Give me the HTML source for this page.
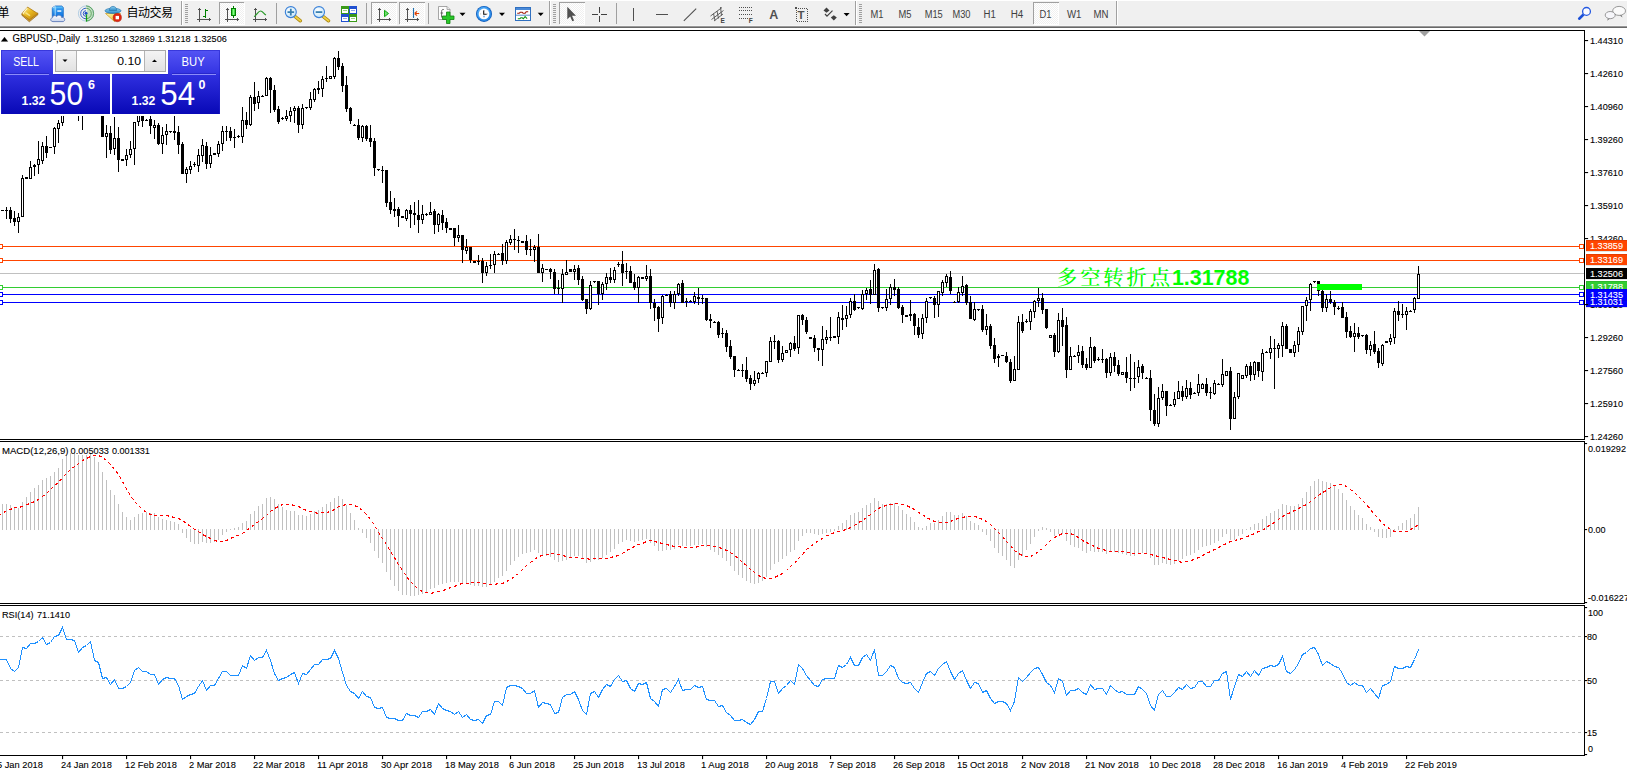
<!DOCTYPE html>
<html lang="zh"><head><meta charset="utf-8"><title>GBPUSD-,Daily</title>
<style>
html,body{margin:0;padding:0;background:#fff;}
body{width:1627px;height:772px;overflow:hidden;position:relative;font-family:"Liberation Sans","Noto Sans CJK SC",sans-serif;}
svg{display:block;}
#chart{position:absolute;left:0;top:0;}
#tb{position:absolute;left:0;top:0;}
#panel{position:absolute;left:0;top:50px;}

</style></head>
<body>
<svg id="chart" width="1627" height="772" viewBox="0 0 1627 772" shape-rendering="crispEdges">
<rect x="0" y="28" width="1627" height="744" fill="#fff"/>
<rect x="0" y="246" width="1584" height="1" fill="#ff4500"/>
<rect x="0" y="260" width="1584" height="1" fill="#ff4500"/>
<rect x="0" y="273" width="1584" height="1" fill="#c0c0c0"/>
<rect x="0" y="287" width="1584" height="1" fill="#32cd32"/>
<rect x="0" y="294" width="1584" height="1" fill="#0000ff"/>
<rect x="0" y="302" width="1584" height="1" fill="#0000ff"/>
<rect x="-1.5" y="244.5" width="4" height="4" fill="#fff" stroke="#ff4500" stroke-width="1"/>
<rect x="1579.5" y="244.5" width="4" height="4" fill="#fff" stroke="#ff4500" stroke-width="1"/>
<rect x="-1.5" y="258.5" width="4" height="4" fill="#fff" stroke="#ff4500" stroke-width="1"/>
<rect x="1579.5" y="258.5" width="4" height="4" fill="#fff" stroke="#ff4500" stroke-width="1"/>
<rect x="-1.5" y="285.5" width="4" height="4" fill="#fff" stroke="#32cd32" stroke-width="1"/>
<rect x="1579.5" y="285.5" width="4" height="4" fill="#fff" stroke="#32cd32" stroke-width="1"/>
<rect x="-1.5" y="292.5" width="4" height="4" fill="#fff" stroke="#0000ff" stroke-width="1"/>
<rect x="1579.5" y="292.5" width="4" height="4" fill="#fff" stroke="#0000ff" stroke-width="1"/>
<rect x="-1.5" y="300.5" width="4" height="4" fill="#fff" stroke="#0000ff" stroke-width="1"/>
<rect x="1579.5" y="300.5" width="4" height="4" fill="#fff" stroke="#0000ff" stroke-width="1"/>
<path fill="#000" d="M2 210h1v1h-1zM1 210h3v1h-3zM6 207h1v12h-1zM5 210h3v1h-3zM10 207h1v16h-1zM9 210h3v9h-3zM14 211h1v15h-1zM13 218h3v4h-3zM18 213h1v20h-1zM17 217h3v5h-3zM22 175h1v42h-1zM21 178h3v39h-3zM26 177h1v2h-1zM25 177h3v2h-3zM30 161h1v18h-1zM29 167h3v12h-3zM34 164h1v12h-1zM33 165h3v2h-3zM38 141h1v33h-1zM37 159h3v6h-3zM42 142h1v22h-1zM41 146h3v15h-3zM46 136h1v22h-1zM45 146h3v7h-3zM50 147h1v1h-1zM49 147h3v1h-3zM54 127h1v27h-1zM53 128h3v19h-3zM58 120h1v23h-1zM57 123h3v6h-3zM62 77h1v49h-1zM61 78h3v45h-3zM66 57h1v52h-1zM65 78h3v20h-3zM70 69h1v31h-1zM69 95h3v3h-3zM74 95h1v1h-1zM73 95h3v1h-3zM78 94h1v27h-1zM77 96h3v14h-3zM82 93h1v37h-1zM81 96h3v14h-3zM86 79h1v26h-1zM85 88h3v8h-3zM90 70h1v24h-1zM89 73h3v15h-3zM94 70h1v35h-1zM93 73h3v28h-3zM98 101h1v1h-1zM97 101h3v1h-3zM102 100h1v37h-1zM101 102h3v35h-3zM106 125h1v33h-1zM105 133h3v4h-3zM110 126h1v28h-1zM109 133h3v17h-3zM114 117h1v38h-1zM113 138h3v11h-3zM118 127h1v45h-1zM117 138h3v22h-3zM122 159h1v2h-1zM121 159h3v2h-3zM126 149h1v17h-1zM125 155h3v5h-3zM130 141h1v17h-1zM129 149h3v6h-3zM134 122h1v43h-1zM133 122h3v27h-3zM138 112h1v14h-1zM137 113h3v9h-3zM142 108h1v19h-1zM141 110h3v11h-3zM146 119h1v1h-1zM145 120h3v1h-3zM150 113h1v21h-1zM149 119h3v7h-3zM154 120h1v19h-1zM153 125h3v3h-3zM158 123h1v22h-1zM157 125h3v19h-3zM162 127h1v27h-1zM161 135h3v9h-3zM166 124h1v21h-1zM165 131h3v4h-3zM169 131h3v1h-3zM170 132h1v1h-1zM174 116h1v24h-1zM173 131h3v2h-3zM178 126h1v28h-1zM177 132h3v13h-3zM182 142h1v32h-1zM181 144h3v30h-3zM186 167h1v16h-1zM185 169h3v5h-3zM190 161h1v13h-1zM189 166h3v4h-3zM194 162h1v5h-1zM193 164h3v1h-3zM198 149h1v23h-1zM197 155h3v11h-3zM202 139h1v23h-1zM201 145h3v11h-3zM206 142h1v27h-1zM205 146h3v18h-3zM210 147h1v21h-1zM209 155h3v9h-3zM214 153h1v2h-1zM213 153h3v2h-3zM218 141h1v16h-1zM217 144h3v10h-3zM222 126h1v25h-1zM221 131h3v13h-3zM226 126h1v15h-1zM225 131h3v1h-3zM230 127h1v14h-1zM229 131h3v7h-3zM234 129h1v19h-1zM233 137h3v1h-3zM238 135h1v3h-1zM237 136h3v1h-3zM242 107h1v36h-1zM241 120h3v17h-3zM246 112h1v17h-1zM245 120h3v5h-3zM250 95h1v31h-1zM249 97h3v28h-3zM254 82h1v29h-1zM253 97h3v7h-3zM258 91h1v18h-1zM257 96h3v7h-3zM262 95h1v1h-1zM261 96h3v1h-3zM266 77h1v19h-1zM265 78h3v18h-3zM270 77h1v36h-1zM269 78h3v12h-3zM274 85h1v27h-1zM273 90h3v20h-3zM278 106h1v18h-1zM277 109h3v13h-3zM282 117h1v3h-1zM281 118h3v1h-3zM286 110h1v11h-1zM285 116h3v3h-3zM290 107h1v15h-1zM289 111h3v5h-3zM294 106h1v17h-1zM293 108h3v3h-3zM298 106h1v27h-1zM297 108h3v17h-3zM302 104h1v25h-1zM301 108h3v17h-3zM305 107h3v1h-3zM306 108h1v1h-1zM310 92h1v18h-1zM309 99h3v9h-3zM314 88h1v14h-1zM313 89h3v11h-3zM318 81h1v13h-1zM317 88h3v2h-3zM322 76h1v21h-1zM321 79h3v10h-3zM326 66h1v16h-1zM325 78h3v1h-3zM330 76h1v3h-1zM329 76h3v3h-3zM334 57h1v22h-1zM333 58h3v19h-3zM338 51h1v19h-1zM337 58h3v9h-3zM342 63h1v29h-1zM341 66h3v20h-3zM346 76h1v36h-1zM345 85h3v24h-3zM350 107h1v17h-1zM349 108h3v13h-3zM354 124h1v1h-1zM353 125h3v1h-3zM358 119h1v21h-1zM357 125h3v13h-3zM362 125h1v17h-1zM361 126h3v12h-3zM366 125h1v16h-1zM365 126h3v13h-3zM370 125h1v22h-1zM369 138h3v4h-3zM374 138h1v38h-1zM373 141h3v27h-3zM377 169h3v1h-3zM378 170h1v1h-1zM382 166h1v17h-1zM381 170h3v1h-3zM386 170h1v37h-1zM385 170h3v33h-3zM390 191h1v23h-1zM389 202h3v8h-3zM394 198h1v19h-1zM393 209h3v2h-3zM398 207h1v20h-1zM397 209h3v7h-3zM402 216h1v2h-1zM401 216h3v2h-3zM406 209h1v12h-1zM405 210h3v9h-3zM410 205h1v23h-1zM409 210h3v4h-3zM414 202h1v23h-1zM413 213h3v2h-3zM418 200h1v33h-1zM417 215h3v5h-3zM422 205h1v19h-1zM421 214h3v6h-3zM426 213h1v3h-1zM425 214h3v1h-3zM430 202h1v13h-1zM429 212h3v3h-3zM434 209h1v25h-1zM433 211h3v14h-3zM438 213h1v19h-1zM437 214h3v11h-3zM442 210h1v20h-1zM441 215h3v8h-3zM446 218h1v15h-1zM445 222h3v6h-3zM450 228h1v2h-1zM449 228h3v2h-3zM454 228h1v18h-1zM453 228h3v10h-3zM458 225h1v17h-1zM457 235h3v3h-3zM462 235h1v28h-1zM461 235h3v15h-3zM466 239h1v15h-1zM465 247h3v4h-3zM470 247h1v16h-1zM469 247h3v13h-3zM474 261h1v2h-1zM473 261h3v2h-3zM478 255h1v10h-1zM477 261h3v1h-3zM482 258h1v25h-1zM481 261h3v12h-3zM486 262h1v14h-1zM485 266h3v7h-3zM490 254h1v15h-1zM489 265h3v1h-3zM494 251h1v22h-1zM493 254h3v11h-3zM498 253h1v1h-1zM497 254h3v1h-3zM502 244h1v21h-1zM501 253h3v8h-3zM506 240h1v24h-1zM505 242h3v19h-3zM510 235h1v10h-1zM509 239h3v4h-3zM514 229h1v21h-1zM513 239h3v1h-3zM518 236h1v17h-1zM517 240h3v1h-3zM522 241h1v2h-1zM521 241h3v2h-3zM526 235h1v20h-1zM525 241h3v9h-3zM530 239h1v17h-1zM529 249h3v1h-3zM534 245h1v17h-1zM533 247h3v3h-3zM538 234h1v39h-1zM537 247h3v26h-3zM542 264h1v18h-1zM541 268h3v5h-3zM546 269h1v1h-1zM545 269h3v1h-3zM550 268h1v11h-1zM549 269h3v3h-3zM554 269h1v25h-1zM553 272h3v17h-3zM558 280h1v14h-1zM557 288h3v1h-3zM562 269h1v34h-1zM561 274h3v15h-3zM566 260h1v15h-1zM565 272h3v3h-3zM570 269h1v3h-1zM569 269h3v3h-3zM574 265h1v15h-1zM573 269h3v3h-3zM578 265h1v20h-1zM577 268h3v12h-3zM582 276h1v25h-1zM581 279h3v21h-3zM586 299h1v15h-1zM585 299h3v10h-3zM590 281h1v29h-1zM589 285h3v24h-3zM593 281h3v1h-3zM594 282h1v1h-1zM598 281h1v24h-1zM597 281h3v13h-3zM602 282h1v18h-1zM601 284h3v10h-3zM606 273h1v17h-1zM605 277h3v7h-3zM610 268h1v15h-1zM609 277h3v3h-3zM614 267h1v16h-1zM613 270h3v10h-3zM618 262h1v5h-1zM617 264h3v1h-3zM622 251h1v35h-1zM621 264h3v9h-3zM626 263h1v16h-1zM625 271h3v1h-3zM630 266h1v17h-1zM629 271h3v12h-3zM634 274h1v16h-1zM633 282h3v6h-3zM638 276h1v27h-1zM637 277h3v11h-3zM642 277h1v2h-1zM641 277h3v2h-3zM646 265h1v16h-1zM645 276h3v3h-3zM650 269h1v40h-1zM649 276h3v27h-3zM654 299h1v22h-1zM653 303h3v5h-3zM658 306h1v26h-1zM657 307h3v12h-3zM662 295h1v29h-1zM661 296h3v22h-3zM666 294h1v1h-1zM665 295h3v1h-3zM670 291h1v16h-1zM669 294h3v9h-3zM674 291h1v18h-1zM673 294h3v9h-3zM678 283h1v13h-1zM677 284h3v10h-3zM682 280h1v23h-1zM681 283h3v20h-3zM686 298h1v9h-1zM685 301h3v1h-3zM690 300h1v1h-1zM689 301h3v1h-3zM694 292h1v12h-1zM693 296h3v6h-3zM698 288h1v17h-1zM697 297h3v2h-3zM702 295h1v9h-1zM701 298h3v1h-3zM706 298h1v23h-1zM705 298h3v22h-3zM710 314h1v14h-1zM709 319h3v2h-3zM714 321h1v1h-1zM713 322h3v1h-3zM718 321h1v17h-1zM717 322h3v13h-3zM722 328h1v10h-1zM721 333h3v1h-3zM726 330h1v22h-1zM725 333h3v14h-3zM730 340h1v19h-1zM729 346h3v11h-3zM734 356h1v21h-1zM733 356h3v14h-3zM738 369h1v1h-1zM737 370h3v1h-3zM742 364h1v13h-1zM741 370h3v1h-3zM746 357h1v25h-1zM745 370h3v9h-3zM750 375h1v15h-1zM749 378h3v6h-3zM754 371h1v15h-1zM753 380h3v4h-3zM758 372h1v11h-1zM757 373h3v6h-3zM762 372h1v1h-1zM761 373h3v1h-3zM766 361h1v16h-1zM765 361h3v12h-3zM770 337h1v25h-1zM769 341h3v21h-3zM774 335h1v14h-1zM773 341h3v1h-3zM778 340h1v23h-1zM777 341h3v19h-3zM782 346h1v16h-1zM781 353h3v7h-3zM786 350h1v3h-1zM785 350h3v3h-3zM790 342h1v15h-1zM789 343h3v7h-3zM794 336h1v15h-1zM793 343h3v6h-3zM798 315h1v39h-1zM797 315h3v33h-3zM802 314h1v11h-1zM801 315h3v5h-3zM806 317h1v17h-1zM805 320h3v12h-3zM810 337h1v2h-1zM809 337h3v2h-3zM814 335h1v17h-1zM813 338h3v10h-3zM818 348h1v13h-1zM817 348h3v2h-3zM822 326h1v40h-1zM821 339h3v11h-3zM826 330h1v14h-1zM825 337h3v3h-3zM830 317h1v24h-1zM829 337h3v1h-3zM834 336h1v2h-1zM833 336h3v2h-3zM838 312h1v32h-1zM837 317h3v20h-3zM842 305h1v25h-1zM841 318h3v2h-3zM846 306h1v21h-1zM845 315h3v4h-3zM850 298h1v20h-1zM849 301h3v14h-3zM854 294h1v17h-1zM853 301h3v9h-3zM857 307h3v1h-3zM858 308h1v1h-1zM862 290h1v20h-1zM861 294h3v15h-3zM866 288h1v12h-1zM865 290h3v4h-3zM870 280h1v24h-1zM869 289h3v6h-3zM874 264h1v31h-1zM873 270h3v25h-3zM878 268h1v44h-1zM877 269h3v39h-3zM881 307h3v1h-3zM882 308h1v1h-1zM886 289h1v22h-1zM885 299h3v9h-3zM890 284h1v21h-1zM889 287h3v12h-3zM894 279h1v17h-1zM893 287h3v3h-3zM898 287h1v22h-1zM897 289h3v19h-3zM902 305h1v18h-1zM901 307h3v8h-3zM906 315h1v2h-1zM905 315h3v2h-3zM910 300h1v21h-1zM909 314h3v2h-3zM914 313h1v22h-1zM913 314h3v12h-3zM918 318h1v20h-1zM917 327h3v8h-3zM922 314h1v25h-1zM921 318h3v16h-3zM926 298h1v25h-1zM925 301h3v17h-3zM929 297h3v1h-3zM930 298h1v1h-1zM934 296h1v22h-1zM933 298h3v7h-3zM938 291h1v26h-1zM937 291h3v14h-3zM942 280h1v16h-1zM941 282h3v11h-3zM946 274h1v13h-1zM945 276h3v7h-3zM950 271h1v23h-1zM949 277h3v14h-3zM954 301h1v1h-1zM953 302h3v1h-3zM958 287h1v16h-1zM957 292h3v10h-3zM962 276h1v20h-1zM961 286h3v7h-3zM966 284h1v21h-1zM965 285h3v18h-3zM970 296h1v23h-1zM969 302h3v17h-3zM974 302h1v19h-1zM973 309h3v11h-3zM977 309h3v1h-3zM978 310h1v1h-1zM982 305h1v27h-1zM981 309h3v21h-3zM986 314h1v21h-1zM985 326h3v4h-3zM990 324h1v25h-1zM989 326h3v20h-3zM994 338h1v25h-1zM993 345h3v14h-3zM998 354h1v13h-1zM997 356h3v2h-3zM1002 355h1v1h-1zM1001 355h3v1h-3zM1006 352h1v11h-1zM1005 356h3v6h-3zM1010 359h1v24h-1zM1009 362h3v19h-3zM1014 356h1v25h-1zM1013 369h3v12h-3zM1018 316h1v54h-1zM1017 322h3v48h-3zM1022 314h1v19h-1zM1021 322h3v9h-3zM1026 319h1v4h-1zM1025 321h3v1h-3zM1030 309h1v21h-1zM1029 311h3v11h-3zM1034 300h1v18h-1zM1033 301h3v11h-3zM1038 288h1v19h-1zM1037 298h3v3h-3zM1042 293h1v21h-1zM1041 298h3v12h-3zM1046 309h1v20h-1zM1045 309h3v19h-3zM1050 335h1v3h-1zM1049 335h3v3h-3zM1054 333h1v24h-1zM1053 335h3v17h-3zM1058 313h1v40h-1zM1057 320h3v32h-3zM1062 308h1v38h-1zM1061 320h3v7h-3zM1066 317h1v61h-1zM1065 325h3v45h-3zM1070 347h1v23h-1zM1069 356h3v14h-3zM1074 355h1v1h-1zM1073 356h3v1h-3zM1078 345h1v18h-1zM1077 352h3v4h-3zM1082 346h1v22h-1zM1081 351h3v14h-3zM1086 358h1v12h-1zM1085 364h3v4h-3zM1090 337h1v31h-1zM1089 347h3v21h-3zM1094 346h1v17h-1zM1093 347h3v14h-3zM1098 357h1v4h-1zM1097 359h3v1h-3zM1102 349h1v14h-1zM1101 359h3v1h-3zM1106 358h1v20h-1zM1105 359h3v14h-3zM1110 353h1v23h-1zM1109 357h3v16h-3zM1114 352h1v20h-1zM1113 357h3v9h-3zM1118 360h1v16h-1zM1117 365h3v9h-3zM1122 372h1v3h-1zM1121 372h3v3h-3zM1126 357h1v26h-1zM1125 372h3v6h-3zM1130 354h1v37h-1zM1129 378h3v1h-3zM1134 362h1v26h-1zM1133 378h3v1h-3zM1138 360h1v23h-1zM1137 367h3v10h-3zM1142 364h1v15h-1zM1141 366h3v7h-3zM1146 377h1v1h-1zM1145 378h3v1h-3zM1150 370h1v51h-1zM1149 378h3v32h-3zM1154 394h1v32h-1zM1153 410h3v14h-3zM1158 387h1v40h-1zM1157 398h3v26h-3zM1162 384h1v16h-1zM1161 391h3v7h-3zM1166 391h1v25h-1zM1165 391h3v15h-3zM1170 404h1v1h-1zM1169 405h3v1h-3zM1174 392h1v15h-1zM1173 399h3v6h-3zM1178 381h1v18h-1zM1177 391h3v8h-3zM1182 386h1v15h-1zM1181 391h3v6h-3zM1186 380h1v19h-1zM1185 388h3v9h-3zM1190 382h1v17h-1zM1189 388h3v7h-3zM1194 392h1v1h-1zM1193 393h3v1h-3zM1198 374h1v22h-1zM1197 384h3v9h-3zM1202 383h1v6h-1zM1201 384h3v5h-3zM1206 378h1v18h-1zM1205 384h3v9h-3zM1210 387h1v12h-1zM1209 392h3v1h-3zM1214 380h1v15h-1zM1213 383h3v11h-3zM1218 383h1v1h-1zM1217 384h3v1h-3zM1222 359h1v28h-1zM1221 374h3v11h-3zM1226 371h1v5h-1zM1225 371h3v5h-3zM1230 367h1v63h-1zM1229 371h3v48h-3zM1234 392h1v27h-1zM1233 397h3v22h-3zM1238 373h1v26h-1zM1237 373h3v24h-3zM1242 375h1v4h-1zM1241 375h3v4h-3zM1246 364h1v14h-1zM1245 366h3v10h-3zM1250 362h1v19h-1zM1249 366h3v9h-3zM1254 361h1v19h-1zM1253 362h3v13h-3zM1258 362h1v15h-1zM1257 362h3v9h-3zM1262 349h1v32h-1zM1261 353h3v19h-3zM1266 351h1v1h-1zM1265 352h3v1h-3zM1270 336h1v23h-1zM1269 348h3v5h-3zM1274 339h1v50h-1zM1273 348h3v1h-3zM1278 343h1v15h-1zM1277 345h3v4h-3zM1282 322h1v35h-1zM1281 326h3v20h-3zM1286 324h1v25h-1zM1285 326h3v23h-3zM1290 349h1v4h-1zM1289 349h3v4h-3zM1294 341h1v16h-1zM1293 345h3v8h-3zM1298 327h1v25h-1zM1297 331h3v14h-3zM1302 306h1v29h-1zM1301 306h3v26h-3zM1306 297h1v24h-1zM1305 300h3v6h-3zM1310 283h1v28h-1zM1309 284h3v16h-3zM1313 281h3v1h-3zM1314 282h1v1h-1zM1318 281h1v15h-1zM1317 281h3v10h-3zM1322 284h1v28h-1zM1321 291h3v17h-3zM1326 294h1v18h-1zM1325 299h3v9h-3zM1330 291h1v13h-1zM1329 299h3v3h-3zM1334 300h1v15h-1zM1333 302h3v5h-3zM1338 306h1v4h-1zM1337 308h3v1h-3zM1342 302h1v16h-1zM1341 307h3v11h-3zM1346 312h1v26h-1zM1345 317h3v15h-3zM1350 326h1v12h-1zM1349 331h3v6h-3zM1354 323h1v29h-1zM1353 333h3v4h-3zM1358 327h1v12h-1zM1357 333h3v4h-3zM1361 335h3v1h-3zM1362 336h1v1h-1zM1366 334h1v20h-1zM1365 335h3v15h-3zM1370 341h1v15h-1zM1369 345h3v5h-3zM1374 331h1v23h-1zM1373 344h3v8h-3zM1378 348h1v20h-1zM1377 351h3v12h-3zM1382 344h1v22h-1zM1381 345h3v19h-3zM1386 341h1v2h-1zM1385 341h3v2h-3zM1390 334h1v11h-1zM1389 338h3v4h-3zM1394 308h1v36h-1zM1393 311h3v27h-3zM1398 301h1v20h-1zM1397 311h3v4h-3zM1402 304h1v14h-1zM1401 314h3v1h-3zM1406 307h1v23h-1zM1405 311h3v4h-3zM1410 310h1v1h-1zM1409 311h3v1h-3zM1414 297h1v16h-1zM1413 298h3v12h-3zM1418 266h1v33h-1zM1417 274h3v25h-3z"/>
<path fill="#fff" d="M18 218h1v3h-1zM22 179h1v37h-1zM30 168h1v10h-1zM38 160h1v4h-1zM42 147h1v13h-1zM54 129h1v17h-1zM58 124h1v4h-1zM62 79h1v43h-1zM70 96h1v1h-1zM82 97h1v12h-1zM86 89h1v6h-1zM90 74h1v13h-1zM106 134h1v2h-1zM114 139h1v9h-1zM126 156h1v3h-1zM130 150h1v4h-1zM134 123h1v25h-1zM138 114h1v7h-1zM154 126h1v1h-1zM162 136h1v7h-1zM166 132h1v2h-1zM186 170h1v3h-1zM190 167h1v2h-1zM198 156h1v9h-1zM202 146h1v9h-1zM210 156h1v7h-1zM218 145h1v8h-1zM222 132h1v11h-1zM242 121h1v15h-1zM250 98h1v26h-1zM258 97h1v5h-1zM266 79h1v16h-1zM286 117h1v1h-1zM290 112h1v3h-1zM294 109h1v1h-1zM302 109h1v15h-1zM310 100h1v7h-1zM314 90h1v9h-1zM322 80h1v8h-1zM330 77h1v1h-1zM334 59h1v17h-1zM362 127h1v10h-1zM406 211h1v7h-1zM422 215h1v4h-1zM430 213h1v1h-1zM438 215h1v9h-1zM458 236h1v1h-1zM466 248h1v2h-1zM486 267h1v5h-1zM494 255h1v9h-1zM506 243h1v17h-1zM510 240h1v2h-1zM534 248h1v1h-1zM542 269h1v3h-1zM562 275h1v13h-1zM566 273h1v1h-1zM574 270h1v1h-1zM590 286h1v22h-1zM602 285h1v8h-1zM606 278h1v5h-1zM614 271h1v8h-1zM638 278h1v9h-1zM646 277h1v1h-1zM662 297h1v20h-1zM674 295h1v7h-1zM678 285h1v8h-1zM694 297h1v4h-1zM754 381h1v2h-1zM758 374h1v4h-1zM766 362h1v10h-1zM770 342h1v19h-1zM782 354h1v5h-1zM786 351h1v1h-1zM790 344h1v5h-1zM798 316h1v31h-1zM822 340h1v9h-1zM826 338h1v1h-1zM838 318h1v18h-1zM846 316h1v2h-1zM850 302h1v12h-1zM862 295h1v13h-1zM866 291h1v2h-1zM874 271h1v23h-1zM886 300h1v7h-1zM890 288h1v10h-1zM922 319h1v14h-1zM926 302h1v15h-1zM938 292h1v12h-1zM942 283h1v9h-1zM946 277h1v5h-1zM958 293h1v8h-1zM962 287h1v5h-1zM974 310h1v9h-1zM986 327h1v2h-1zM1014 370h1v10h-1zM1018 323h1v46h-1zM1030 312h1v9h-1zM1034 302h1v9h-1zM1038 299h1v1h-1zM1050 336h1v1h-1zM1058 321h1v30h-1zM1070 357h1v12h-1zM1078 353h1v2h-1zM1090 348h1v19h-1zM1110 358h1v14h-1zM1122 373h1v1h-1zM1138 368h1v8h-1zM1158 399h1v24h-1zM1162 392h1v5h-1zM1174 400h1v4h-1zM1178 392h1v6h-1zM1186 389h1v7h-1zM1198 385h1v7h-1zM1202 385h1v3h-1zM1214 384h1v9h-1zM1222 375h1v9h-1zM1226 372h1v3h-1zM1234 398h1v20h-1zM1238 374h1v22h-1zM1242 376h1v2h-1zM1246 367h1v8h-1zM1254 363h1v11h-1zM1262 354h1v17h-1zM1270 349h1v3h-1zM1278 346h1v2h-1zM1282 327h1v18h-1zM1294 346h1v6h-1zM1298 332h1v12h-1zM1302 307h1v24h-1zM1306 301h1v4h-1zM1310 285h1v14h-1zM1326 300h1v7h-1zM1354 334h1v2h-1zM1370 346h1v3h-1zM1382 346h1v17h-1zM1390 339h1v2h-1zM1394 312h1v25h-1zM1406 312h1v2h-1zM1414 299h1v10h-1zM1418 275h1v23h-1z"/>
<rect x="1317" y="284" width="45" height="6" fill="#00ff00"/>
<g shape-rendering="auto"><text x="1057" y="284.5" fill="#00ff00" font-size="21.3px" font-weight="bold" style="font-family:'Liberation Sans','Noto Serif CJK SC',serif"><tspan font-weight="500" font-size="20.3px" textLength="113" lengthAdjust="spacing">多空转折点</tspan><tspan dx="-1" textLength="77.5" lengthAdjust="spacingAndGlyphs">1.31788</tspan></text></g>
<rect x="0" y="30" width="1585" height="1" fill="#000"/>
<rect x="1584" y="30" width="1" height="726" fill="#000"/>
<rect x="0" y="439" width="1585" height="1" fill="#000"/>
<rect x="0" y="440" width="1585" height="1" fill="#fff"/>
<rect x="0" y="441" width="1585" height="1" fill="#000"/>
<rect x="0" y="603" width="1585" height="1" fill="#000"/>
<rect x="0" y="604" width="1585" height="1" fill="#fff"/>
<rect x="0" y="605" width="1585" height="1" fill="#000"/>
<rect x="0" y="755" width="1585" height="1" fill="#000"/>
<path d="M1419 31h11l-5.5 5.5z" fill="#a0a0a0" shape-rendering="auto"/>
<path fill="#c0c0c0" d="M-2 505h1v25h-1zM2 504h1v26h-1zM6 504h1v26h-1zM10 505h1v25h-1zM14 507h1v23h-1zM18 508h1v22h-1zM22 502h1v28h-1zM26 497h1v33h-1zM30 492h1v38h-1zM34 488h1v42h-1zM38 485h1v45h-1zM42 480h1v50h-1zM46 478h1v52h-1zM50 476h1v54h-1zM54 472h1v58h-1zM58 468h1v62h-1zM62 459h1v71h-1zM66 455h1v75h-1zM70 453h1v77h-1zM74 452h1v78h-1zM78 455h1v75h-1zM82 455h1v75h-1zM86 455h1v75h-1zM90 453h1v77h-1zM94 457h1v73h-1zM98 462h1v68h-1zM102 472h1v58h-1zM106 480h1v50h-1zM110 490h1v40h-1zM114 495h1v35h-1zM118 504h1v26h-1zM122 512h1v18h-1zM126 517h1v13h-1zM130 520h1v10h-1zM134 517h1v13h-1zM138 514h1v16h-1zM142 513h1v17h-1zM146 512h1v18h-1zM150 513h1v17h-1zM154 513h1v17h-1zM158 517h1v13h-1zM162 519h1v11h-1zM166 520h1v10h-1zM170 521h1v9h-1zM174 522h1v8h-1zM178 524h1v6h-1zM182 529h1v4h-1zM186 529h1v9h-1zM190 529h1v13h-1zM194 529h1v15h-1zM198 529h1v15h-1zM202 529h1v13h-1zM206 529h1v14h-1zM210 529h1v14h-1zM214 529h1v13h-1zM218 529h1v11h-1zM222 529h1v6h-1zM226 529h1v3h-1zM230 529h1v1h-1zM234 528h1v2h-1zM238 527h1v3h-1zM242 523h1v7h-1zM246 521h1v9h-1zM250 514h1v16h-1zM254 511h1v19h-1zM258 506h1v24h-1zM262 504h1v26h-1zM266 498h1v32h-1zM270 497h1v33h-1zM274 499h1v31h-1zM278 504h1v26h-1zM282 507h1v23h-1zM286 510h1v20h-1zM290 511h1v19h-1zM294 511h1v19h-1zM298 515h1v15h-1zM302 515h1v15h-1zM306 516h1v14h-1zM310 514h1v16h-1zM314 511h1v19h-1zM318 510h1v20h-1zM322 507h1v23h-1zM326 504h1v26h-1zM330 502h1v28h-1zM334 498h1v32h-1zM338 496h1v34h-1zM342 499h1v31h-1zM346 505h1v25h-1zM350 513h1v17h-1zM354 520h1v10h-1zM358 528h1v2h-1zM362 529h1v4h-1zM366 529h1v9h-1zM370 529h1v14h-1zM374 529h1v22h-1zM378 529h1v29h-1zM382 529h1v34h-1zM386 529h1v43h-1zM390 529h1v51h-1zM394 529h1v57h-1zM398 529h1v62h-1zM402 529h1v66h-1zM406 529h1v66h-1zM410 529h1v67h-1zM414 529h1v67h-1zM418 529h1v66h-1zM422 529h1v65h-1zM426 529h1v63h-1zM430 529h1v60h-1zM434 529h1v59h-1zM438 529h1v56h-1zM442 529h1v55h-1zM446 529h1v54h-1zM450 529h1v53h-1zM454 529h1v53h-1zM458 529h1v53h-1zM462 529h1v54h-1zM466 529h1v54h-1zM470 529h1v56h-1zM474 529h1v57h-1zM478 529h1v57h-1zM482 529h1v58h-1zM486 529h1v58h-1zM490 529h1v56h-1zM494 529h1v53h-1zM498 529h1v49h-1zM502 529h1v47h-1zM506 529h1v42h-1zM510 529h1v36h-1zM514 529h1v32h-1zM518 529h1v28h-1zM522 529h1v25h-1zM526 529h1v24h-1zM530 529h1v23h-1zM534 529h1v21h-1zM538 529h1v24h-1zM542 529h1v26h-1zM546 529h1v27h-1zM550 529h1v28h-1zM554 529h1v31h-1zM558 529h1v33h-1zM562 529h1v32h-1zM566 529h1v31h-1zM570 529h1v29h-1zM574 529h1v27h-1zM578 529h1v27h-1zM582 529h1v30h-1zM586 529h1v34h-1zM590 529h1v33h-1zM594 529h1v31h-1zM598 529h1v31h-1zM602 529h1v29h-1zM606 529h1v26h-1zM610 529h1v23h-1zM614 529h1v20h-1zM618 529h1v15h-1zM622 529h1v13h-1zM626 529h1v11h-1zM630 529h1v12h-1zM634 529h1v13h-1zM638 529h1v12h-1zM642 529h1v11h-1zM646 529h1v10h-1zM650 529h1v14h-1zM654 529h1v17h-1zM658 529h1v22h-1zM662 529h1v22h-1zM666 529h1v21h-1zM670 529h1v21h-1zM674 529h1v20h-1zM678 529h1v16h-1zM682 529h1v17h-1zM686 529h1v17h-1zM690 529h1v17h-1zM694 529h1v16h-1zM698 529h1v16h-1zM702 529h1v15h-1zM706 529h1v18h-1zM710 529h1v21h-1zM714 529h1v23h-1zM718 529h1v26h-1zM722 529h1v29h-1zM726 529h1v32h-1zM730 529h1v37h-1zM734 529h1v42h-1zM738 529h1v46h-1zM742 529h1v49h-1zM746 529h1v52h-1zM750 529h1v54h-1zM754 529h1v55h-1zM758 529h1v54h-1zM762 529h1v52h-1zM766 529h1v48h-1zM770 529h1v41h-1zM774 529h1v35h-1zM778 529h1v33h-1zM782 529h1v30h-1zM786 529h1v27h-1zM790 529h1v23h-1zM794 529h1v21h-1zM798 529h1v12h-1zM802 529h1v7h-1zM806 529h1v4h-1zM810 529h1v4h-1zM814 529h1v5h-1zM818 529h1v6h-1zM822 529h1v5h-1zM826 529h1v4h-1zM830 529h1v3h-1zM834 529h1v2h-1zM838 526h1v4h-1zM842 523h1v7h-1zM846 520h1v10h-1zM850 515h1v15h-1zM854 513h1v17h-1zM858 512h1v18h-1zM862 508h1v22h-1zM866 505h1v25h-1zM870 503h1v27h-1zM874 498h1v32h-1zM878 501h1v29h-1zM882 504h1v26h-1zM886 504h1v26h-1zM890 503h1v27h-1zM894 503h1v27h-1zM898 506h1v24h-1zM902 510h1v20h-1zM906 514h1v16h-1zM910 517h1v13h-1zM914 522h1v8h-1zM918 527h1v3h-1zM922 528h1v2h-1zM926 526h1v4h-1zM930 523h1v7h-1zM934 523h1v7h-1zM938 520h1v10h-1zM942 516h1v14h-1zM946 512h1v18h-1zM950 512h1v18h-1zM954 515h1v15h-1zM958 515h1v15h-1zM962 513h1v17h-1zM966 516h1v14h-1zM970 521h1v9h-1zM974 523h1v7h-1zM978 525h1v5h-1zM982 529h1v3h-1zM986 529h1v6h-1zM990 529h1v12h-1zM994 529h1v19h-1zM998 529h1v24h-1zM1002 529h1v27h-1zM1006 529h1v31h-1zM1010 529h1v37h-1zM1014 529h1v39h-1zM1018 529h1v31h-1zM1022 529h1v27h-1zM1026 529h1v21h-1zM1030 529h1v15h-1zM1034 529h1v8h-1zM1038 529h1v2h-1zM1042 527h1v3h-1zM1046 528h1v2h-1zM1050 529h1v3h-1zM1054 529h1v7h-1zM1058 529h1v5h-1zM1062 529h1v5h-1zM1066 529h1v12h-1zM1070 529h1v16h-1zM1074 529h1v18h-1zM1078 529h1v19h-1zM1082 529h1v22h-1zM1086 529h1v24h-1zM1090 529h1v22h-1zM1094 529h1v23h-1zM1098 529h1v23h-1zM1102 529h1v23h-1zM1106 529h1v25h-1zM1110 529h1v23h-1zM1114 529h1v23h-1zM1118 529h1v24h-1zM1122 529h1v25h-1zM1126 529h1v26h-1zM1130 529h1v27h-1zM1134 529h1v27h-1zM1138 529h1v25h-1zM1142 529h1v24h-1zM1146 529h1v24h-1zM1150 529h1v29h-1zM1154 529h1v36h-1zM1158 529h1v36h-1zM1162 529h1v34h-1zM1166 529h1v35h-1zM1170 529h1v36h-1zM1174 529h1v35h-1zM1178 529h1v32h-1zM1182 529h1v30h-1zM1186 529h1v27h-1zM1190 529h1v26h-1zM1194 529h1v24h-1zM1198 529h1v21h-1zM1202 529h1v18h-1zM1206 529h1v17h-1zM1210 529h1v16h-1zM1214 529h1v14h-1zM1218 529h1v12h-1zM1222 529h1v8h-1zM1226 529h1v5h-1zM1230 529h1v11h-1zM1234 529h1v11h-1zM1238 529h1v7h-1zM1242 529h1v5h-1zM1246 529h1v1h-1zM1250 527h1v3h-1zM1254 524h1v6h-1zM1258 523h1v7h-1zM1262 519h1v11h-1zM1266 516h1v14h-1zM1270 513h1v17h-1zM1274 511h1v19h-1zM1278 509h1v21h-1zM1282 504h1v26h-1zM1286 505h1v25h-1zM1290 506h1v24h-1zM1294 506h1v24h-1zM1298 504h1v26h-1zM1302 498h1v32h-1zM1306 492h1v38h-1zM1310 486h1v44h-1zM1314 481h1v49h-1zM1318 479h1v51h-1zM1322 481h1v49h-1zM1326 482h1v48h-1zM1330 483h1v47h-1zM1334 486h1v44h-1zM1338 489h1v41h-1zM1342 493h1v37h-1zM1346 500h1v30h-1zM1350 506h1v24h-1zM1354 510h1v20h-1zM1358 515h1v15h-1zM1362 518h1v12h-1zM1366 524h1v6h-1zM1370 527h1v3h-1zM1374 529h1v3h-1zM1378 529h1v8h-1zM1382 529h1v9h-1zM1386 529h1v9h-1zM1390 529h1v8h-1zM1394 529h1v2h-1zM1398 526h1v4h-1zM1402 523h1v7h-1zM1406 520h1v10h-1zM1410 518h1v12h-1zM1414 514h1v16h-1zM1418 507h1v23h-1z"/>
<polyline points="-1.5,515.5 2.5,513.5 6.5,510.5 10.5,509.5 14.5,507.5 18.5,507.5 22.5,506.5 26.5,504.5 30.5,503.5 34.5,501.5 38.5,499.5 42.5,496.5 46.5,493.5 50.5,489.5 54.5,485.5 58.5,482.5 62.5,477.5 66.5,473.5 70.5,469.5 74.5,466.5 78.5,463.5 82.5,460.5 86.5,458.5 90.5,456.5 94.5,455.5 98.5,455.5 102.5,457.5 106.5,460.5 110.5,464.5 114.5,469.5 118.5,474.5 122.5,481.5 126.5,488.5 130.5,495.5 134.5,501.5 138.5,505.5 142.5,509.5 146.5,512.5 150.5,514.5 154.5,515.5 158.5,515.5 162.5,515.5 166.5,515.5 170.5,516.5 174.5,517.5 178.5,518.5 182.5,520.5 186.5,523.5 190.5,526.5 194.5,529.5 198.5,531.5 202.5,534.5 206.5,536.5 210.5,538.5 214.5,540.5 218.5,541.5 222.5,541.5 226.5,540.5 230.5,538.5 234.5,536.5 238.5,535.5 242.5,533.5 246.5,530.5 250.5,527.5 254.5,524.5 258.5,521.5 262.5,518.5 266.5,515.5 270.5,511.5 274.5,508.5 278.5,506.5 282.5,504.5 286.5,504.5 290.5,504.5 294.5,505.5 298.5,506.5 302.5,508.5 306.5,510.5 310.5,511.5 314.5,512.5 318.5,513.5 322.5,512.5 326.5,512.5 330.5,511.5 334.5,509.5 338.5,506.5 342.5,505.5 346.5,504.5 350.5,504.5 354.5,505.5 358.5,507.5 362.5,510.5 366.5,514.5 370.5,519.5 374.5,525.5 378.5,532.5 382.5,538.5 386.5,544.5 390.5,551.5 394.5,557.5 398.5,564.5 402.5,570.5 406.5,576.5 410.5,581.5 414.5,585.5 418.5,589.5 422.5,591.5 426.5,592.5 430.5,593.5 434.5,592.5 438.5,591.5 442.5,590.5 446.5,589.5 450.5,587.5 454.5,586.5 458.5,584.5 462.5,583.5 466.5,583.5 470.5,582.5 474.5,582.5 478.5,582.5 482.5,583.5 486.5,583.5 490.5,584.5 494.5,584.5 498.5,583.5 502.5,583.5 506.5,581.5 510.5,579.5 514.5,576.5 518.5,573.5 522.5,569.5 526.5,565.5 530.5,562.5 534.5,559.5 538.5,556.5 542.5,555.5 546.5,554.5 550.5,553.5 554.5,553.5 558.5,554.5 562.5,555.5 566.5,556.5 570.5,557.5 574.5,557.5 578.5,557.5 582.5,558.5 586.5,558.5 590.5,559.5 594.5,558.5 598.5,558.5 602.5,558.5 606.5,558.5 610.5,557.5 614.5,556.5 618.5,555.5 622.5,553.5 626.5,550.5 630.5,548.5 634.5,546.5 638.5,544.5 642.5,543.5 646.5,541.5 650.5,540.5 654.5,541.5 658.5,542.5 662.5,543.5 666.5,544.5 670.5,545.5 674.5,546.5 678.5,546.5 682.5,547.5 686.5,547.5 690.5,547.5 694.5,547.5 698.5,546.5 702.5,545.5 706.5,545.5 710.5,545.5 714.5,546.5 718.5,547.5 722.5,548.5 726.5,550.5 730.5,552.5 734.5,555.5 738.5,558.5 742.5,562.5 746.5,565.5 750.5,569.5 754.5,572.5 758.5,575.5 762.5,577.5 766.5,578.5 770.5,578.5 774.5,577.5 778.5,575.5 782.5,573.5 786.5,570.5 790.5,566.5 794.5,563.5 798.5,558.5 802.5,554.5 806.5,549.5 810.5,546.5 814.5,543.5 818.5,540.5 822.5,538.5 826.5,535.5 830.5,534.5 834.5,532.5 838.5,531.5 842.5,530.5 846.5,529.5 850.5,527.5 854.5,525.5 858.5,522.5 862.5,520.5 866.5,517.5 870.5,514.5 874.5,511.5 878.5,508.5 882.5,506.5 886.5,505.5 890.5,504.5 894.5,503.5 898.5,503.5 902.5,504.5 906.5,505.5 910.5,507.5 914.5,509.5 918.5,512.5 922.5,514.5 926.5,517.5 930.5,519.5 934.5,521.5 938.5,522.5 942.5,522.5 946.5,522.5 950.5,521.5 954.5,519.5 958.5,518.5 962.5,517.5 966.5,516.5 970.5,516.5 974.5,516.5 978.5,517.5 982.5,519.5 986.5,521.5 990.5,524.5 994.5,528.5 998.5,532.5 1002.5,536.5 1006.5,541.5 1010.5,545.5 1014.5,550.5 1018.5,553.5 1022.5,555.5 1026.5,556.5 1030.5,556.5 1034.5,554.5 1038.5,551.5 1042.5,548.5 1046.5,544.5 1050.5,540.5 1054.5,537.5 1058.5,535.5 1062.5,533.5 1066.5,533.5 1070.5,533.5 1074.5,535.5 1078.5,537.5 1082.5,540.5 1086.5,542.5 1090.5,544.5 1094.5,546.5 1098.5,548.5 1102.5,549.5 1106.5,550.5 1110.5,551.5 1114.5,551.5 1118.5,551.5 1122.5,551.5 1126.5,552.5 1130.5,552.5 1134.5,553.5 1138.5,553.5 1142.5,553.5 1146.5,553.5 1150.5,554.5 1154.5,555.5 1158.5,556.5 1162.5,557.5 1166.5,558.5 1170.5,559.5 1174.5,560.5 1178.5,561.5 1182.5,562.5 1186.5,561.5 1190.5,560.5 1194.5,559.5 1198.5,557.5 1202.5,555.5 1206.5,553.5 1210.5,551.5 1214.5,549.5 1218.5,547.5 1222.5,545.5 1226.5,543.5 1230.5,541.5 1234.5,540.5 1238.5,539.5 1242.5,538.5 1246.5,536.5 1250.5,535.5 1254.5,533.5 1258.5,531.5 1262.5,530.5 1266.5,527.5 1270.5,524.5 1274.5,522.5 1278.5,519.5 1282.5,516.5 1286.5,514.5 1290.5,512.5 1294.5,510.5 1298.5,508.5 1302.5,506.5 1306.5,504.5 1310.5,501.5 1314.5,498.5 1318.5,495.5 1322.5,492.5 1326.5,490.5 1330.5,487.5 1334.5,485.5 1338.5,484.5 1342.5,484.5 1346.5,486.5 1350.5,489.5 1354.5,492.5 1358.5,496.5 1362.5,500.5 1366.5,504.5 1370.5,509.5 1374.5,514.5 1378.5,518.5 1382.5,523.5 1386.5,526.5 1390.5,529.5 1394.5,531.5 1398.5,531.5 1402.5,531.5 1406.5,531.5 1410.5,529.5 1414.5,527.5 1418.5,524.5" fill="none" stroke="#ff0000" stroke-width="1" stroke-dasharray="3 3"/>
<line x1="0" y1="636.5" x2="1584" y2="636.5" stroke="#c0c0c0" stroke-width="1" stroke-dasharray="3 3"/>
<line x1="0" y1="680.5" x2="1584" y2="680.5" stroke="#c0c0c0" stroke-width="1" stroke-dasharray="3 3"/>
<line x1="0" y1="732.5" x2="1584" y2="732.5" stroke="#c0c0c0" stroke-width="1" stroke-dasharray="3 3"/>
<polyline points="-1.5,659.5 2.5,659.5 6.5,659.5 10.5,668.5 14.5,671.5 18.5,667.5 22.5,647.5 26.5,648.5 30.5,643.5 34.5,643.5 38.5,641.5 42.5,637.5 46.5,644.5 50.5,642.5 54.5,636.5 58.5,635.5 62.5,627.5 66.5,639.5 70.5,639.5 74.5,640.5 78.5,652.5 82.5,647.5 86.5,645.5 90.5,641.5 94.5,660.5 98.5,662.5 102.5,678.5 106.5,677.5 110.5,684.5 114.5,679.5 118.5,688.5 122.5,688.5 126.5,686.5 130.5,682.5 134.5,670.5 138.5,667.5 142.5,671.5 146.5,671.5 150.5,674.5 154.5,674.5 158.5,684.5 162.5,679.5 166.5,677.5 170.5,678.5 174.5,678.5 178.5,685.5 182.5,699.5 186.5,696.5 190.5,694.5 194.5,693.5 198.5,686.5 202.5,680.5 206.5,690.5 210.5,685.5 214.5,685.5 218.5,678.5 222.5,671.5 226.5,671.5 230.5,675.5 234.5,675.5 238.5,675.5 242.5,665.5 246.5,668.5 250.5,655.5 254.5,660.5 258.5,657.5 262.5,657.5 266.5,650.5 270.5,660.5 274.5,673.5 278.5,680.5 282.5,678.5 286.5,677.5 290.5,674.5 294.5,672.5 298.5,683.5 302.5,673.5 306.5,674.5 310.5,669.5 314.5,664.5 318.5,664.5 322.5,659.5 326.5,659.5 330.5,658.5 334.5,650.5 338.5,658.5 342.5,672.5 346.5,685.5 350.5,691.5 354.5,693.5 358.5,698.5 362.5,691.5 366.5,696.5 370.5,697.5 374.5,707.5 378.5,708.5 382.5,707.5 386.5,717.5 390.5,718.5 394.5,718.5 398.5,720.5 402.5,720.5 406.5,713.5 410.5,715.5 414.5,715.5 418.5,717.5 422.5,711.5 426.5,711.5 430.5,709.5 434.5,714.5 438.5,703.5 442.5,708.5 446.5,710.5 450.5,711.5 454.5,714.5 458.5,711.5 462.5,717.5 466.5,714.5 470.5,719.5 474.5,720.5 478.5,719.5 482.5,723.5 486.5,715.5 490.5,714.5 494.5,701.5 498.5,701.5 502.5,705.5 506.5,687.5 510.5,685.5 514.5,685.5 518.5,686.5 522.5,688.5 526.5,693.5 530.5,693.5 534.5,690.5 538.5,707.5 542.5,702.5 546.5,703.5 550.5,704.5 554.5,713.5 558.5,712.5 562.5,697.5 566.5,694.5 570.5,694.5 574.5,691.5 578.5,699.5 582.5,710.5 586.5,714.5 590.5,693.5 594.5,691.5 598.5,697.5 602.5,689.5 606.5,684.5 610.5,686.5 614.5,679.5 618.5,675.5 622.5,681.5 626.5,680.5 630.5,688.5 634.5,691.5 638.5,683.5 642.5,684.5 646.5,682.5 650.5,698.5 654.5,701.5 658.5,706.5 662.5,689.5 666.5,688.5 670.5,692.5 674.5,686.5 678.5,679.5 682.5,690.5 686.5,689.5 690.5,689.5 694.5,685.5 698.5,687.5 702.5,686.5 706.5,699.5 710.5,700.5 714.5,700.5 718.5,706.5 722.5,705.5 726.5,712.5 730.5,715.5 734.5,720.5 738.5,720.5 742.5,719.5 746.5,722.5 750.5,724.5 754.5,719.5 758.5,711.5 762.5,711.5 766.5,698.5 770.5,681.5 774.5,681.5 778.5,693.5 782.5,688.5 786.5,685.5 790.5,680.5 794.5,684.5 798.5,664.5 802.5,668.5 806.5,675.5 810.5,680.5 814.5,685.5 818.5,686.5 822.5,679.5 826.5,678.5 830.5,678.5 834.5,678.5 838.5,665.5 842.5,667.5 846.5,664.5 850.5,657.5 854.5,665.5 858.5,665.5 862.5,657.5 866.5,654.5 870.5,660.5 874.5,649.5 878.5,675.5 882.5,675.5 886.5,671.5 890.5,665.5 894.5,667.5 898.5,678.5 902.5,682.5 906.5,683.5 910.5,682.5 914.5,688.5 918.5,692.5 922.5,682.5 926.5,673.5 930.5,671.5 934.5,675.5 938.5,668.5 942.5,664.5 946.5,661.5 950.5,671.5 954.5,679.5 958.5,673.5 962.5,670.5 966.5,680.5 970.5,688.5 974.5,682.5 978.5,683.5 982.5,692.5 986.5,690.5 990.5,698.5 994.5,703.5 998.5,701.5 1002.5,701.5 1006.5,703.5 1010.5,710.5 1014.5,701.5 1018.5,677.5 1022.5,681.5 1026.5,677.5 1030.5,672.5 1034.5,668.5 1038.5,667.5 1042.5,674.5 1046.5,682.5 1050.5,685.5 1054.5,692.5 1058.5,678.5 1062.5,681.5 1066.5,695.5 1070.5,690.5 1074.5,690.5 1078.5,688.5 1082.5,692.5 1086.5,694.5 1090.5,684.5 1094.5,689.5 1098.5,688.5 1102.5,688.5 1106.5,694.5 1110.5,685.5 1114.5,689.5 1118.5,692.5 1122.5,691.5 1126.5,694.5 1130.5,694.5 1134.5,694.5 1138.5,686.5 1142.5,689.5 1146.5,693.5 1150.5,705.5 1154.5,710.5 1158.5,694.5 1162.5,690.5 1166.5,696.5 1170.5,696.5 1174.5,692.5 1178.5,687.5 1182.5,689.5 1186.5,684.5 1190.5,688.5 1194.5,687.5 1198.5,681.5 1202.5,681.5 1206.5,686.5 1210.5,686.5 1214.5,680.5 1218.5,680.5 1222.5,673.5 1226.5,671.5 1230.5,699.5 1234.5,686.5 1238.5,674.5 1242.5,676.5 1246.5,671.5 1250.5,676.5 1254.5,670.5 1258.5,675.5 1262.5,668.5 1266.5,667.5 1270.5,665.5 1274.5,666.5 1278.5,664.5 1282.5,656.5 1286.5,671.5 1290.5,673.5 1294.5,669.5 1298.5,663.5 1302.5,654.5 1306.5,652.5 1310.5,648.5 1314.5,647.5 1318.5,654.5 1322.5,665.5 1326.5,661.5 1330.5,663.5 1334.5,666.5 1338.5,667.5 1342.5,673.5 1346.5,682.5 1350.5,685.5 1354.5,682.5 1358.5,685.5 1362.5,685.5 1366.5,692.5 1370.5,688.5 1374.5,693.5 1378.5,698.5 1382.5,685.5 1386.5,684.5 1390.5,681.5 1394.5,666.5 1398.5,668.5 1402.5,668.5 1406.5,666.5 1410.5,667.5 1414.5,659.5 1418.5,649.5" fill="none" stroke="#1e90ff" stroke-width="1"/>
<g shape-rendering="auto" font-size="9.6px" fill="#000" stroke="#000" stroke-width=".1" style="font-family:'Liberation Sans',sans-serif">
<text x="1590" y="44" textLength="33" lengthAdjust="spacingAndGlyphs">1.44310</text>
<text x="1590" y="77" textLength="33" lengthAdjust="spacingAndGlyphs">1.42610</text>
<text x="1590" y="110" textLength="33" lengthAdjust="spacingAndGlyphs">1.40960</text>
<text x="1590" y="143" textLength="33" lengthAdjust="spacingAndGlyphs">1.39260</text>
<text x="1590" y="176" textLength="33" lengthAdjust="spacingAndGlyphs">1.37610</text>
<text x="1590" y="209" textLength="33" lengthAdjust="spacingAndGlyphs">1.35910</text>
<text x="1590" y="242" textLength="33" lengthAdjust="spacingAndGlyphs">1.34260</text>
<text x="1590" y="308" textLength="33" lengthAdjust="spacingAndGlyphs">1.30910</text>
<text x="1590" y="341" textLength="33" lengthAdjust="spacingAndGlyphs">1.29260</text>
<text x="1590" y="374" textLength="33" lengthAdjust="spacingAndGlyphs">1.27560</text>
<text x="1590" y="407" textLength="33" lengthAdjust="spacingAndGlyphs">1.25910</text>
<text x="1590" y="440" textLength="33" lengthAdjust="spacingAndGlyphs">1.24260</text>
<rect x="1586" y="240" width="41" height="11" fill="#ff4500" shape-rendering="crispEdges"/>
<rect x="1586" y="254" width="41" height="11" fill="#ff4500" shape-rendering="crispEdges"/>
<rect x="1586" y="268" width="41" height="11" fill="#000" shape-rendering="crispEdges"/>
<rect x="1586" y="281" width="41" height="11" fill="#32cd32" shape-rendering="crispEdges"/>
<text x="1590" y="290" fill="#fff" stroke="#fff" textLength="33" lengthAdjust="spacingAndGlyphs">1.31788</text>
<rect x="1586" y="296" width="41" height="11" fill="#0000ff" shape-rendering="crispEdges"/>
<rect x="1586" y="289" width="41" height="11" fill="#0000ff" shape-rendering="crispEdges"/>
<text x="1590" y="249" fill="#fff" stroke="#fff" textLength="33" lengthAdjust="spacingAndGlyphs">1.33859</text>
<text x="1590" y="263" fill="#fff" stroke="#fff" textLength="33" lengthAdjust="spacingAndGlyphs">1.33169</text>
<text x="1590" y="277" fill="#fff" stroke="#fff" textLength="33" lengthAdjust="spacingAndGlyphs">1.32506</text>
<text x="1590" y="305" fill="#fff" stroke="#fff" textLength="33" lengthAdjust="spacingAndGlyphs">1.31031</text>
<text x="1590" y="298" fill="#fff" stroke="#fff" textLength="33" lengthAdjust="spacingAndGlyphs">1.31435</text>
<text x="1588" y="452" textLength="38" lengthAdjust="spacingAndGlyphs">0.019292</text>
<text x="1588" y="533" textLength="17.6" lengthAdjust="spacingAndGlyphs">0.00</text>
<text x="1588" y="601" textLength="41" lengthAdjust="spacingAndGlyphs">-0.016227</text>
<text x="1588" y="616" textLength="15" lengthAdjust="spacingAndGlyphs">100</text>
<text x="1587" y="640" textLength="10" lengthAdjust="spacingAndGlyphs">80</text>
<text x="1587" y="684" textLength="10" lengthAdjust="spacingAndGlyphs">50</text>
<text x="1587" y="736" textLength="10" lengthAdjust="spacingAndGlyphs">15</text>
<text x="1588" y="752" textLength="5" lengthAdjust="spacingAndGlyphs">0</text>
<text x="-3" y="768" textLength="45.9" lengthAdjust="spacingAndGlyphs">5 Jan 2018</text>
<text x="61" y="768" textLength="50.9" lengthAdjust="spacingAndGlyphs">24 Jan 2018</text>
<text x="125" y="768" textLength="51.9" lengthAdjust="spacingAndGlyphs">12 Feb 2018</text>
<text x="189" y="768" textLength="46.9" lengthAdjust="spacingAndGlyphs">2 Mar 2018</text>
<text x="253" y="768" textLength="51.9" lengthAdjust="spacingAndGlyphs">22 Mar 2018</text>
<text x="317" y="768" textLength="50.9" lengthAdjust="spacingAndGlyphs">11 Apr 2018</text>
<text x="381" y="768" textLength="50.9" lengthAdjust="spacingAndGlyphs">30 Apr 2018</text>
<text x="445" y="768" textLength="53.9" lengthAdjust="spacingAndGlyphs">18 May 2018</text>
<text x="509" y="768" textLength="45.9" lengthAdjust="spacingAndGlyphs">6 Jun 2018</text>
<text x="573" y="768" textLength="50.9" lengthAdjust="spacingAndGlyphs">25 Jun 2018</text>
<text x="637" y="768" textLength="47.9" lengthAdjust="spacingAndGlyphs">13 Jul 2018</text>
<text x="701" y="768" textLength="47.9" lengthAdjust="spacingAndGlyphs">1 Aug 2018</text>
<text x="765" y="768" textLength="52.9" lengthAdjust="spacingAndGlyphs">20 Aug 2018</text>
<text x="829" y="768" textLength="46.9" lengthAdjust="spacingAndGlyphs">7 Sep 2018</text>
<text x="893" y="768" textLength="51.9" lengthAdjust="spacingAndGlyphs">26 Sep 2018</text>
<text x="957" y="768" textLength="50.9" lengthAdjust="spacingAndGlyphs">15 Oct 2018</text>
<text x="1021" y="768" textLength="48.9" lengthAdjust="spacingAndGlyphs">2 Nov 2018</text>
<text x="1085" y="768" textLength="53.9" lengthAdjust="spacingAndGlyphs">21 Nov 2018</text>
<text x="1149" y="768" textLength="51.9" lengthAdjust="spacingAndGlyphs">10 Dec 2018</text>
<text x="1213" y="768" textLength="51.9" lengthAdjust="spacingAndGlyphs">28 Dec 2018</text>
<text x="1277" y="768" textLength="50.9" lengthAdjust="spacingAndGlyphs">16 Jan 2019</text>
<text x="1341" y="768" textLength="46.9" lengthAdjust="spacingAndGlyphs">4 Feb 2019</text>
<text x="1405" y="768" textLength="51.9" lengthAdjust="spacingAndGlyphs">22 Feb 2019</text>
<path fill="#000" shape-rendering="crispEdges" d="M1585 40h3v1h-3zM1585 73h3v1h-3zM1585 106h3v1h-3zM1585 139h3v1h-3zM1585 172h3v1h-3zM1585 205h3v1h-3zM1585 238h3v1h-3zM1585 304h3v1h-3zM1585 337h3v1h-3zM1585 370h3v1h-3zM1585 403h3v1h-3zM1585 436h3v1h-3zM1585 443h2v1h-2zM1585 529h2v1h-2zM1585 602h2v1h-2zM1585 607h2v1h-2zM1585 636h2v1h-2zM1585 680h2v1h-2zM1585 732h2v1h-2zM1585 754h2v1h-2zM-2 756h1v3h-1zM62 756h1v3h-1zM126 756h1v3h-1zM190 756h1v3h-1zM254 756h1v3h-1zM318 756h1v3h-1zM382 756h1v3h-1zM446 756h1v3h-1zM510 756h1v3h-1zM574 756h1v3h-1zM638 756h1v3h-1zM702 756h1v3h-1zM766 756h1v3h-1zM830 756h1v3h-1zM894 756h1v3h-1zM958 756h1v3h-1zM1022 756h1v3h-1zM1086 756h1v3h-1zM1150 756h1v3h-1zM1214 756h1v3h-1zM1278 756h1v3h-1zM1342 756h1v3h-1zM1406 756h1v3h-1z"/>
<path d="M1 41.5l3.5-4.5 3.5 4.500z" fill="#000"/>
<text x="12.5" y="42" font-size="10.3px" textLength="67.5" lengthAdjust="spacingAndGlyphs">GBPUSD-,Daily</text>
<text x="85.6" y="42" textLength="33" lengthAdjust="spacingAndGlyphs">1.31250</text>
<text x="121.8" y="42" textLength="33" lengthAdjust="spacingAndGlyphs">1.32869</text>
<text x="157.6" y="42" textLength="33" lengthAdjust="spacingAndGlyphs">1.31218</text>
<text x="193.8" y="42" textLength="33" lengthAdjust="spacingAndGlyphs">1.32506</text>
<text x="2" y="454" textLength="66.5" lengthAdjust="spacingAndGlyphs">MACD(12,26,9)</text>
<text x="70.6" y="454" textLength="38.3" lengthAdjust="spacingAndGlyphs">0.005033</text>
<text x="111.9" y="454" textLength="38" lengthAdjust="spacingAndGlyphs">0.001331</text>
<text x="2" y="618" textLength="31.6" lengthAdjust="spacingAndGlyphs">RSI(14)</text>
<text x="37" y="618" textLength="33" lengthAdjust="spacingAndGlyphs">71.1410</text>
</g>
</svg>
<svg id="tb" width="1627" height="30" viewBox="0 0 1627 30">
<defs>
<linearGradient id="gGold" x1="0" y1="0" x2="1" y2="1"><stop offset="0" stop-color="#fff3a0"/><stop offset=".45" stop-color="#e8b820"/><stop offset="1" stop-color="#b87808"/></linearGradient>
<linearGradient id="gBlue" x1="0" y1="0" x2="0" y2="1"><stop offset="0" stop-color="#60c8ff"/><stop offset="1" stop-color="#0868d8"/></linearGradient>
<linearGradient id="gCloud" x1="0" y1="0" x2="0" y2="1"><stop offset="0" stop-color="#ffffff"/><stop offset="1" stop-color="#c8d4ec"/></linearGradient>
<linearGradient id="gGreen" x1="0" y1="0" x2="1" y2="0"><stop offset="0" stop-color="#10b010"/><stop offset=".5" stop-color="#80ff80"/><stop offset="1" stop-color="#10b010"/></linearGradient>
<radialGradient id="gLens" cx=".4" cy=".35" r=".7"><stop offset="0" stop-color="#ffffff"/><stop offset="1" stop-color="#bfe4fb"/></radialGradient>
<linearGradient id="gHat" x1="0" y1="0" x2="0" y2="1"><stop offset="0" stop-color="#8fd0f0"/><stop offset="1" stop-color="#2e8cc8"/></linearGradient>
<linearGradient id="gYel" x1="0" y1="0" x2="1" y2="1"><stop offset="0" stop-color="#fff8b0"/><stop offset="1" stop-color="#e8b010"/></linearGradient>
<pattern id="chk" width="2" height="2" patternUnits="userSpaceOnUse"><rect width="2" height="2" fill="#fff"/><rect width="1" height="1" fill="#f0f0f0"/><rect x="1" y="1" width="1" height="1" fill="#f0f0f0"/></pattern>
</defs>
<rect x="0" y="0" width="1627" height="1" fill="#fff"/>
<rect x="0" y="1" width="1627" height="24" fill="#f0f0f0"/>
<rect x="0" y="25" width="1627" height="1" fill="#f5f5f5"/>
<rect x="0" y="26" width="1627" height="1" fill="#989898"/>
<rect x="0" y="27" width="1627" height="1" fill="#686868"/>
<rect x="0" y="28" width="1627" height="2" fill="#fff"/>
<!-- selected buttons -->
<g shape-rendering="crispEdges">
<g id="selbtns">
<rect x="219" y="2" width="25" height="22" fill="url(#chk)"/><path d="M219 24V2h25" fill="none" stroke="#a0a0a0"/><path d="M244.500 2.500V24.500H219.500" fill="none" stroke="#fff"/>
<rect x="371" y="2" width="25" height="22" fill="url(#chk)"/><path d="M371.500 24V2.500h25" fill="none" stroke="#a0a0a0"/><path d="M396.500 2.500V24.500H371.500" fill="none" stroke="#fff"/>
<rect x="399" y="2" width="25" height="22" fill="url(#chk)"/><path d="M399.500 24V2.500h25" fill="none" stroke="#a0a0a0"/><path d="M424.500 2.500V24.500H399.500" fill="none" stroke="#fff"/>
<rect x="559" y="2" width="25" height="22" fill="url(#chk)"/><path d="M559.500 24V2.500h25" fill="none" stroke="#a0a0a0"/><path d="M584.500 2.500V24.500H559.500" fill="none" stroke="#fff"/>
<rect x="1033" y="2" width="25" height="22" fill="url(#chk)"/><path d="M1033.500 24V2.500h25" fill="none" stroke="#a0a0a0"/><path d="M1058.500 2.500V24.500H1033.500" fill="none" stroke="#fff"/>
</g>
<!-- separators -->
<path d="M181.500 1v24M549.500 1v24M855.500 1v24M1116.500 1v24" stroke="#a0a0a0"/>
<path d="M182.500 1v24M550.500 1v24M856.500 1v24M1117.500 1v24" stroke="#fff"/>
<path d="M276.500 3v21M366.500 3v21M428.500 3v21M616.500 3v21" stroke="#a0a0a0"/>
<g transform="translate(185,4.500)"><path d="M0 0h3M0 2h3M0 4h3M0 6h3M0 8h3M0 10h3M0 12h3M0 14h3M0 16h3M0 18h3" stroke="#a0a0a0" stroke-width="1"/></g><g transform="translate(553,4.500)"><path d="M0 0h3M0 2h3M0 4h3M0 6h3M0 8h3M0 10h3M0 12h3M0 14h3M0 16h3M0 18h3" stroke="#a0a0a0" stroke-width="1"/></g><g transform="translate(859,4.500)"><path d="M0 0h3M0 2h3M0 4h3M0 6h3M0 8h3M0 10h3M0 12h3M0 14h3M0 16h3M0 18h3" stroke="#a0a0a0" stroke-width="1"/></g>
</g>
<!-- text -->
<g font-size="12px" fill="#000" style="font-family:'Liberation Sans','Noto Sans CJK SC',sans-serif">
<text x="-2.500" y="17">单</text>
<text x="126.500" y="17" textLength="46.500" lengthAdjust="spacing">自动交易</text>
</g>
<!-- gold book -->
<g><path d="M21.800 15.200L29.300 21.800L37.900 14.700L37.800 12.900L29.400 19.300L22 13.400Z" fill="#b8801c" stroke="#8a5a10" stroke-width=".6" stroke-linejoin="round"/><path d="M23 15.400l6.300 5.400l8-6.500" fill="none" stroke="#e8c468" stroke-width=".5"/><path d="M27.600 7.100L37.800 13.600L29.400 19.800L21.900 14.200C23.200 11.300 25.800 9.400 27.600 7.100Z" fill="url(#gGold)" stroke="#b07a14" stroke-width=".8" stroke-linejoin="round"/><path d="M27.300 8.300c-1.500 1.600-3.400 3.400-4.200 5.500" fill="none" stroke="#fff8d0" stroke-width="1.100"/><path d="M26 13l3.500 2.300" stroke="#fff2a8" stroke-width="1.600" stroke-linecap="round" opacity=".7"/></g>
<!-- computer + cloud -->
<g><path d="M52.300 7.800l2.800-1.800h6.600l1.600 1.400v9.400h-11z" fill="url(#gBlue)" stroke="#1468c8" stroke-width=".8"/><path d="M52.600 8l2.600-1.600v10" fill="none" stroke="#c8ecff" stroke-width=".8"/><path d="M56.500 8.300h5.800v7.500h-5.800z" fill="#1a80e8" opacity=".6"/><rect x="57.300" y="10.300" width="4" height="1.500" fill="#f0f8ff"/><path d="M53 21.600c-2.800 0-3.100-3.500-.5-3.900c.2-2.300 3.100-2.800 4.100-1.100c1.200-2.300 4.900-1.700 5 .9c3.300-.7 4.300 3.300 1.500 4.100z" fill="url(#gCloud)" stroke="#5a78b8" stroke-width=".9"/></g>
<!-- signal -->
<g fill="none"><path d="M86 13.500L86 21.500A8 8 0 0 0 86 5.500A8 8 0 0 1 86 13.500Z" fill="#9fd49f" opacity=".55"/><circle cx="86" cy="13.500" r="7.600" stroke="#7fb0d8" stroke-width=".8" opacity=".7"/><path d="M86 8.200a5.300 5.300 0 0 0 0 10.600" stroke="#3060c8" stroke-width="1"/><path d="M86 10.700a2.800 2.800 0 0 0 0 5.600" stroke="#3060c8" stroke-width="1"/><path d="M86 8.200a5.300 5.300 0 0 1 0 10.600M86 5.900a7.600 7.600 0 0 1 0 15.200" stroke="#4a9a4a" stroke-width="1" opacity=".8"/><circle cx="86" cy="13.300" r="1.500" fill="#2050c8"/><path d="M86.500 14.500v7" stroke="#10a010" stroke-width="1.200"/></g>
<!-- hat / expert + stop -->
<g><path d="M105.500 13.500h15l-6 8z" fill="url(#gYel)" stroke="#c89818" stroke-width=".7"/><ellipse cx="113" cy="10.800" rx="8" ry="2.600" fill="url(#gHat)" stroke="#2878b0" stroke-width=".7"/><path d="M109.300 10.500c0-5.500 7.400-5.500 7.400 0z" fill="url(#gHat)" stroke="#2878b0" stroke-width=".7"/><circle cx="117.300" cy="17.600" r="4.100" fill="#e02810"/><circle cx="117.300" cy="17.600" r="4.100" fill="none" stroke="#b01808" stroke-width=".6"/><rect x="115.600" y="15.900" width="3.400" height="3.400" fill="#fff"/></g>
<!-- bar chart icon -->
<g shape-rendering="crispEdges"><g transform="translate(196,6)"><path fill="#505050" shape-rendering="crispEdges" d="M3 2h1v14h-1zM2 3h3v1h-3zM1 13h14v1h-14zM13 12h1v3h-1z"/></g><path d="M205.500 9v9M205 10.500h3M203 16.500h3" stroke="#008000" fill="none"/></g>
<!-- candle icon -->
<g shape-rendering="crispEdges"><g transform="translate(224,6)"><path fill="#505050" shape-rendering="crispEdges" d="M3 2h1v14h-1zM2 3h3v1h-3zM1 13h14v1h-14zM13 12h1v3h-1z"/></g><path d="M233.500 6v12" stroke="#008000"/><rect x="231.500" y="8.500" width="4" height="7" fill="url(#gGreen)" stroke="#008000"/></g>
<!-- line icon -->
<g><g transform="translate(252,6)"><path fill="#505050" shape-rendering="crispEdges" d="M3 2h1v14h-1zM2 3h3v1h-3zM1 13h14v1h-14zM13 12h1v3h-1z"/></g><path d="M254 16.500c3-1 4-5.500 6.500-5.500s3 3 5.500 4" fill="none" stroke="#2a9a2a" stroke-width="1.200"/></g>
<!-- zoom in / out -->
<g><path d="M295 16.500l5.400 4.300" stroke="#a88410" stroke-width="3.400" stroke-linecap="round"/><path d="M295 16.500l5.400 4.300" stroke="#f0d040" stroke-width="1.800" stroke-linecap="round"/><circle cx="290.800" cy="12.100" r="5.500" fill="url(#gLens)" stroke="#3a80d8" stroke-width="1.100"/><path d="M287.500 12.100h6.600M290.800 8.800v6.600" stroke="#3a80b0" stroke-width="1.800"/></g>
<g><path d="M323.200 16.500l5.400 4.300" stroke="#a88410" stroke-width="3.400" stroke-linecap="round"/><path d="M323.200 16.500l5.400 4.300" stroke="#f0d040" stroke-width="1.800" stroke-linecap="round"/><circle cx="319" cy="12.100" r="5.500" fill="url(#gLens)" stroke="#3a80d8" stroke-width="1.100"/><path d="M315.700 12.100h6.600" stroke="#3a80b0" stroke-width="1.800"/></g>
<!-- tile -->
<g shape-rendering="crispEdges"><rect x="341" y="6" width="8" height="8" fill="#3a9a18"/><rect x="349" y="6" width="8" height="8" fill="#2050d0"/><rect x="341" y="14" width="8" height="8" fill="#2050d0"/><rect x="349" y="14" width="8" height="8" fill="#3a9a18"/><rect x="342" y="9" width="6" height="4" fill="#fff"/><rect x="350" y="9" width="6" height="4" fill="#fff"/><rect x="342" y="17" width="6" height="4" fill="#fff"/><rect x="350" y="17" width="6" height="4" fill="#fff"/><path d="M343 10.500h4M351 18.500h4" stroke="#9ad080"/><path d="M351 10.500h4M343 18.500h4" stroke="#90a8e8"/></g>
<!-- autoscroll -->
<g><g transform="translate(376,6)"><path fill="#505050" shape-rendering="crispEdges" d="M3 2h1v14h-1zM2 3h3v1h-3zM1 13h14v1h-14zM13 12h1v3h-1z"/></g><path d="M384.500 10.300l4 3.200l-4 3.200z" fill="#70e070" stroke="#00a000" stroke-width=".9"/></g>
<!-- chart shift -->
<g><g transform="translate(404,6)"><path fill="#505050" shape-rendering="crispEdges" d="M3 2h1v14h-1zM2 3h3v1h-3zM1 13h14v1h-14zM13 12h1v3h-1z"/></g><path d="M413.500 8v10" stroke="#2070b0" stroke-width="1.100"/><path d="M414.600 13.500h4.600M414.600 13.500l2.400-2.200M414.600 13.500l2.400 2.200" stroke="#e04000" stroke-width="1.100" fill="none"/></g>
<!-- indicators -->
<g><path d="M438.500 6.500h8.500l3 3v10h-11.500z" fill="#fdfdfd" stroke="#909090" stroke-width=".8"/><path d="M447 6.500v3h3" fill="#e8e8e8" stroke="#909090" stroke-width=".7"/><path d="M443.800 9.500c-1.800-.5-2.200 1-2.200 2v6M440.500 13h2.600" fill="none" stroke="#555" stroke-width=".9"/><path d="M446.500 12h3.500v4h4v3.500h-4v4h-3.500v-4h-4v-3.500h4z" fill="#28c828" stroke="#108010" stroke-width=".8"/><g transform="translate(459.500,12.800)"><path d="M0 0h6l-3 3.200z" fill="#000"/></g></g>
<!-- clock -->
<g><circle cx="484" cy="13.900" r="8" fill="#0c58b8"/><circle cx="484" cy="13.900" r="7.300" fill="#2a8ae8"/><circle cx="483.600" cy="13.300" r="6.300" fill="#5ab0f8" opacity=".7"/><circle cx="484" cy="13.900" r="5.300" fill="#fdfdfd"/><path d="M484 10.200v.8M484 16.800v.8M480.300 13.900h.8M486.900 13.900h.8" stroke="#909090" stroke-width=".7"/><path d="M483.700 10.500v3.700h3" fill="none" stroke="#111" stroke-width="1.100"/><path d="M483 16.300h2" stroke="#4a90e0" stroke-width=".8"/><g transform="translate(499,12.800)"><path d="M0 0h6l-3 3.200z" fill="#000"/></g></g>
<!-- template -->
<g><rect x="515.500" y="7.500" width="15" height="13" fill="#fff" stroke="#3070c0"/><rect x="516" y="8" width="14" height="2" fill="#4a8ad8"/><path d="M516 15.200h14" stroke="#3070c0" stroke-width=".8"/><path d="M517.200 13.300h2l1-1h2l1 1h2l1-1.500h2" fill="none" stroke="#a01808" stroke-width="1.100"/><path d="M517.800 18.800h2l1-1h1.500l1 1l1.800-2.200l2 2" fill="none" stroke="#109010" stroke-width="1.100"/><g transform="translate(537.700,12.800)"><path d="M0 0h6l-3 3.200z" fill="#000"/></g></g>
<!-- cursor -->
<path d="M567.300 6.800v12.400l2.900-2.700l2.100 4.700l1.800-.8l-2.100-4.600h4z" fill="#505050"/>
<!-- crosshair -->
<g shape-rendering="crispEdges" stroke="#404040"><path d="M592 14.500h6M601 14.500h6M599.500 7v6M599.500 16v6"/></g>
<!-- line tools -->
<g shape-rendering="crispEdges" stroke="#505050"><path d="M633.500 8v13M656 14.500h12"/></g>
<path d="M683.800 20.800l12.400-12.200" stroke="#505050" stroke-width="1.100"/>
<g stroke="#505050" stroke-width=".9" fill="none"><path d="M710.500 16l11.500-8.500M711.500 19.500l12-9M714 21l9-7"/><path d="M713.500 13.500l1.500 7M717 11l1.500 7.500M720.500 7l1 8.500"/></g>
<text x="720.500" y="22.500" font-size="6.500px" font-weight="bold" fill="#404040" style="font-family:'Liberation Sans',sans-serif">E</text>
<g stroke="#505050" stroke-width="1" stroke-dasharray="1 1" shape-rendering="crispEdges"><path d="M739 7.500h13M739 10.500h13M739 14.500h13M739 18.500h9"/></g>
<text x="748.800" y="22.500" font-size="6.500px" font-weight="bold" fill="#404040" style="font-family:'Liberation Sans',sans-serif">F</text>
<text x="769.300" y="18.800" font-size="12.500px" font-weight="bold" fill="#505050" style="font-family:'Liberation Sans',sans-serif">A</text>
<g><rect x="796" y="8" width="11.500" height="13" fill="none" stroke="#505050" stroke-dasharray="1 1" shape-rendering="crispEdges"/><rect x="795" y="7" width="2" height="2" fill="#505050"/><text x="797.600" y="19" font-size="11.500px" font-weight="bold" fill="#505050" style="font-family:'Liberation Sans',sans-serif">T</text></g>
<g fill="#404040"><path d="M826.500 7.500l3 3l-3 2.300l-3-2.300z"/><path d="M833.800 20.500l-3-3l3-2.300l3 2.300z"/><path d="M825 14l2 2.200l5.500-5.500" fill="none" stroke="#404040" stroke-width="1.200"/></g>
<g transform="translate(843.600,13)"><path d="M0 0h6l-3 3.200z" fill="#000"/></g>
<!-- timeframes -->
<g font-size="10px" fill="#404040" style="font-family:'Liberation Sans',sans-serif">
<text x="870.400" y="17.500" textLength="13" lengthAdjust="spacingAndGlyphs">M1</text>
<text x="898.400" y="17.500" textLength="13" lengthAdjust="spacingAndGlyphs">M5</text>
<text x="924.700" y="17.500" textLength="18" lengthAdjust="spacingAndGlyphs">M15</text>
<text x="952.500" y="17.500" textLength="18" lengthAdjust="spacingAndGlyphs">M30</text>
<text x="983.600" y="17.500" textLength="12.300" lengthAdjust="spacingAndGlyphs">H1</text>
<text x="1010.700" y="17.500" textLength="12.600" lengthAdjust="spacingAndGlyphs">H4</text>
<text x="1039.500" y="17.500" textLength="12" lengthAdjust="spacingAndGlyphs">D1</text>
<text x="1067" y="17.500" textLength="14.500" lengthAdjust="spacingAndGlyphs">W1</text>
<text x="1093.500" y="17.500" textLength="15" lengthAdjust="spacingAndGlyphs">MN</text>
</g>
<!-- search -->
<g><path d="M1583.500 14.500l-4.300 4.200" stroke="#1c50d8" stroke-width="2.600" stroke-linecap="round"/><circle cx="1586.500" cy="11.400" r="3.900" fill="#fbfbff" stroke="#2458e0" stroke-width="1.300"/></g>
<!-- chat -->
<g><path d="M1621.500 15l1 2.500l-3-2.300z" fill="#707070"/><ellipse cx="1619.100" cy="10.900" rx="6.400" ry="4.500" fill="#fafafa" stroke="#808080" stroke-width=".8"/><path d="M1608 18.300l-.8 2.400l2.800-2.100z" fill="#707070"/><ellipse cx="1610.200" cy="15.100" rx="5" ry="3.600" fill="#f6f6fa" stroke="#808080" stroke-width=".8"/></g>
</svg>

<svg id="panel" width="222" height="68" viewBox="0 0 222 68">
<defs>
<linearGradient id="pb1" x1="0" y1="0" x2="0" y2="1"><stop offset="0" stop-color="#5454f4"/><stop offset="1" stop-color="#3232e2"/></linearGradient>
<linearGradient id="pb2" x1="0" y1="0" x2="0" y2="1"><stop offset="0" stop-color="#3030e0"/><stop offset="1" stop-color="#0808b6"/></linearGradient>
<linearGradient id="pbtn" x1="0" y1="0" x2="0" y2="1"><stop offset="0" stop-color="#f4f4f4"/><stop offset="1" stop-color="#e2e2e2"/></linearGradient>
</defs>
<rect x="0" y="0" width="222" height="66" fill="#fff"/>
<g shape-rendering="crispEdges">
<rect x="1" y="0" width="52" height="25" fill="url(#pb1)"/>
<rect x="168" y="0" width="52" height="25" fill="url(#pb1)"/>
<rect x="1" y="24" width="109" height="40" fill="url(#pb2)"/>
<rect x="112" y="24" width="108" height="40" fill="url(#pb2)"/>
<path d="M1.500 64V0.500H53M168 0.500H219.500V64M110 24.500H53.500M112 24.500H168" fill="none" stroke="#2020c8" stroke-width="1" opacity=".55"/>
<rect x="5" y="23" width="44" height="1" fill="#2626cc"/>
<rect x="172" y="23" width="44" height="1" fill="#2626cc"/>
<rect x="5" y="24" width="44" height="1" fill="#8c8cfa"/>
<rect x="172" y="24" width="44" height="1" fill="#8c8cfa"/>
<rect x="55.500" y="0.500" width="110" height="21" fill="#fff" stroke="#a8a8a8"/>
<rect x="56" y="1" width="20" height="20" fill="url(#pbtn)"/>
<rect x="145" y="1" width="20" height="20" fill="url(#pbtn)"/>
<path d="M76.500 1v20M144.500 1v20" stroke="#b4b4b4"/>
</g>
<path d="M62.500 9.500h5l-2.500 2.600z" fill="#000"/>
<path d="M152 12h5l-2.500 -2.600z" fill="#000"/>
<g fill="#fff" style="font-family:'Liberation Sans',sans-serif">
<text x="13.200" y="16.100" font-size="12px" textLength="25.800" lengthAdjust="spacingAndGlyphs">SELL</text>
<text x="181.600" y="16.100" font-size="12px" textLength="23.200" lengthAdjust="spacingAndGlyphs">BUY</text>
<text x="117.200" y="14.700" font-size="11.500px" fill="#000" textLength="23.800" lengthAdjust="spacingAndGlyphs">0.10</text>
<text x="21.600" y="54.800" font-size="12px" font-weight="bold" textLength="23.800" lengthAdjust="spacingAndGlyphs">1.32</text>
<text x="49.600" y="55.400" font-size="34px" textLength="33.600" lengthAdjust="spacingAndGlyphs">50</text>
<text x="88" y="39.200" font-size="12.500px" font-weight="bold">6</text>
<text x="131.600" y="54.800" font-size="12px" font-weight="bold" textLength="23.800" lengthAdjust="spacingAndGlyphs">1.32</text>
<text x="160.300" y="55.400" font-size="34px" textLength="34.800" lengthAdjust="spacingAndGlyphs">54</text>
<text x="198.600" y="39.200" font-size="12.500px" font-weight="bold">0</text>
</g>
</svg>

</body></html>
